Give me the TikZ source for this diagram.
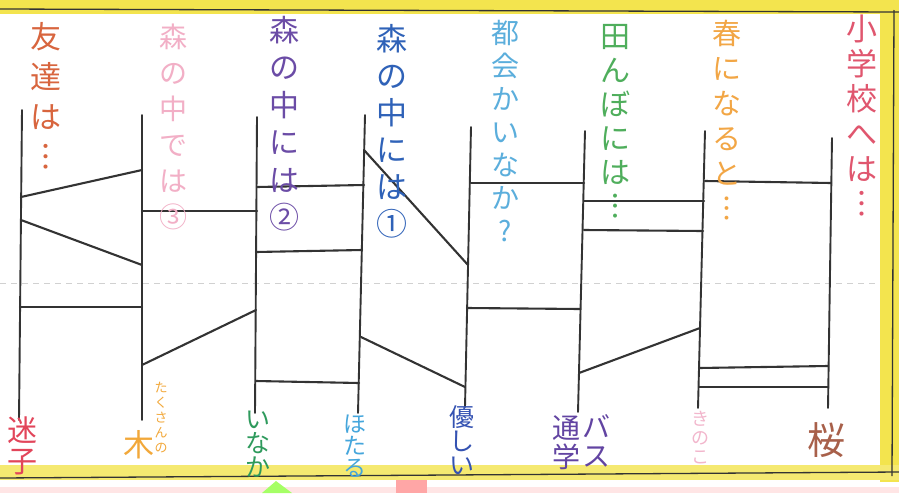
\documentclass[tikz,border=0pt]{standalone}
\usepackage{fontspec}
\newfontfamily\jp{Noto Sans CJK JP}
\definecolor{band}{HTML}{F3E44E}
\definecolor{ink}{HTML}{333333}
\definecolor{cA}{HTML}{D8653E}
\definecolor{cB}{HTML}{F2AFC6}
\definecolor{cC}{HTML}{6B4CA6}
\definecolor{cD}{HTML}{2F62B8}
\definecolor{cE}{HTML}{5BAEDC}
\definecolor{cF}{HTML}{4FAE5C}
\definecolor{cG}{HTML}{F2A645}
\definecolor{cH}{HTML}{E0566E}
\definecolor{bA}{HTML}{E2455A}
\definecolor{bB}{HTML}{F2A83A}
\definecolor{bC}{HTML}{2E9A5C}
\definecolor{bD}{HTML}{45A6DC}
\definecolor{bE}{HTML}{3452B2}
\definecolor{bF}{HTML}{6244A2}
\definecolor{bG}{HTML}{F2B6CC}
\definecolor{bH}{HTML}{A8604A}
\begin{document}
\begin{tikzpicture}[x=1pt,y=-1pt,
  pole/.style={draw=ink, line width=1.9pt, line cap=round},
  rung/.style={draw=ink, line width=2.1pt, line cap=round},
  lab/.style={align=center, inner sep=0pt},
  toplab/.style={lab, anchor=north}]
\useasboundingbox (0,0) rectangle (899,493);
\fill[white] (0,0) rectangle (899,493);
% page below
\fill[pink!40] (0,487) rectangle (899,493);
\fill[green!45!lime!60] (262,493) -- (276,481) -- (292,493) -- cycle;
\fill[red!35] (396,479) rectangle (427,493);
% yellow frame
\fill[band] (0,0) rectangle (899,14);
\fill[band] (880,0) rectangle (899,482);
\fill[band!80] (0,465) rectangle (899,480);
\fill[white] (0,14) rectangle (880,465);
\draw[ink, line width=1.3pt] (0,9) -- (899,12);
\draw[ink, line width=1.3pt] (894,10) -- (892,476);
\draw[ink, line width=1.3pt] (0,478) -- (899,472);
% faint fold line
\draw[black!18, line width=1pt, dash pattern=on 6pt off 5pt] (0,283) -- (880,283);

% poles
\coordinate (t1) at (22,110);  \coordinate (b1) at (19,420);
\coordinate (t2) at (142,115); \coordinate (b2) at (142,420);
\coordinate (t3) at (257,117); \coordinate (b3) at (255,413);
\coordinate (t4) at (365,115); \coordinate (b4) at (358,413);
\coordinate (t5) at (471,127); \coordinate (b5) at (465,407);
\coordinate (t6) at (585,131); \coordinate (b6) at (578,412);
\coordinate (t7) at (705,131); \coordinate (b7) at (698,408);
\coordinate (t8) at (832,138); \coordinate (b8) at (828,408);
\foreach \i in {1,...,8} \draw[pole] (t\i) -- (b\i);

% rung end points
\coordinate (a1) at (21,197);  \coordinate (a2) at (142,170);
\coordinate (c1) at (21,220);  \coordinate (c2) at (142,265);
\coordinate (d1) at (20,307);  \coordinate (d2) at (142,307);
\coordinate (e1) at (142,211); \coordinate (e2) at (257,211);
\coordinate (f1) at (142,365); \coordinate (f2) at (256,310);
\coordinate (g1) at (257,187); \coordinate (g2) at (364,185);
\coordinate (h1) at (256,252); \coordinate (h2) at (362,250);
\coordinate (i1) at (256,381); \coordinate (i2) at (359,383);
\coordinate (j1) at (364,150); \coordinate (j2) at (468,265);
\coordinate (k1) at (361,337); \coordinate (k2) at (465,387);
\coordinate (l1) at (471,183); \coordinate (l2) at (584,183);
\coordinate (m1) at (467,308); \coordinate (m2) at (580,309);
\coordinate (n1) at (584,201); \coordinate (n2) at (704,201);
\coordinate (o1) at (584,230); \coordinate (o2) at (703,231);
\coordinate (p1) at (579,373); \coordinate (p2) at (700,328);
\coordinate (q1) at (705,181); \coordinate (q2) at (831,183);
\coordinate (r1) at (699,368); \coordinate (r2) at (828,366);
\coordinate (s1) at (699,387); \coordinate (s2) at (828,387);
\foreach \r in {a,c,d,e,f,g,h,i,j,k,l,m,n,o,p,q,r,s} \draw[rung] (\r1) -- (\r2);

% top labels
\node[toplab, text=cA, font={\jp\fontsize{31}{40}\selectfont}] (L1) at (46,22) {友\\達\\は\\︙};
\node[toplab, text=cB, font={\jp\fontsize{28}{36}\selectfont}] (L2) at (173,24) {森\\の\\中\\で\\は\\③};
\node[toplab, text=cC, font={\jp\fontsize{30}{37.5}\selectfont}] (L3) at (284,16) {森\\の\\中\\に\\は\\②};
\node[toplab, text=cD, font={\jp\fontsize{31}{37}\selectfont}] (L4) at (392,24) {森\\の\\中\\に\\は\\①};
\node[toplab, text=cE, font={\jp\fontsize{28}{33}\selectfont}] (L5) at (505,20) {都\\会\\か\\い\\な\\か\\?};
\node[toplab, text=cF, font={\jp\fontsize{30}{34}\selectfont}] (L6) at (615,24) {田\\ん\\ぼ\\に\\は\\︙};
\node[toplab, text=cG, font={\jp\fontsize{29}{35}\selectfont}] (L7) at (727,20) {春\\に\\な\\る\\と\\︙};
\node[toplab, text=cH, font={\jp\fontsize{31}{35}\selectfont}] (L8) at (862,15) {小\\学\\校\\へ\\は\\︙};

% bottom labels
\node[lab, text=bA, font={\jp\fontsize{30}{31}\selectfont}] (B1) at (23,446) {迷\\子};
\node[lab, text=bB, font={\jp\fontsize{31}{31}\selectfont}] (B2) at (139,445) {木};
\node[lab, text=bB, font={\jp\fontsize{13}{15}\selectfont}] (B2s) at (161,418) {た\\く\\さ\\ん\\の};
\node[lab, text=bC, font={\jp\fontsize{25}{24}\selectfont}] (B3) at (258,444) {い\\な\\か};
\node[lab, text=bD, font={\jp\fontsize{23}{22}\selectfont}] (B4) at (355,446) {ほ\\た\\る};
\node[lab, text=bE, font={\jp\fontsize{25}{24}\selectfont}] (B5) at (462,440) {優\\し\\い};
\node[lab, text=bF, font={\jp\fontsize{28}{29}\selectfont}] (B6a) at (566,443) {通\\学};
\node[lab, text=bF, font={\jp\fontsize{28}{29}\selectfont}] (B6b) at (596,441) {バ\\ス};
\node[lab, text=bG, font={\jp\fontsize{18}{19}\selectfont}] (B7) at (700,438) {き\\の\\こ};
\node[lab, text=bH, font={\jp\fontsize{38}{40}\selectfont}] (B8) at (826,440) {桜};
\end{tikzpicture}
\end{document}
